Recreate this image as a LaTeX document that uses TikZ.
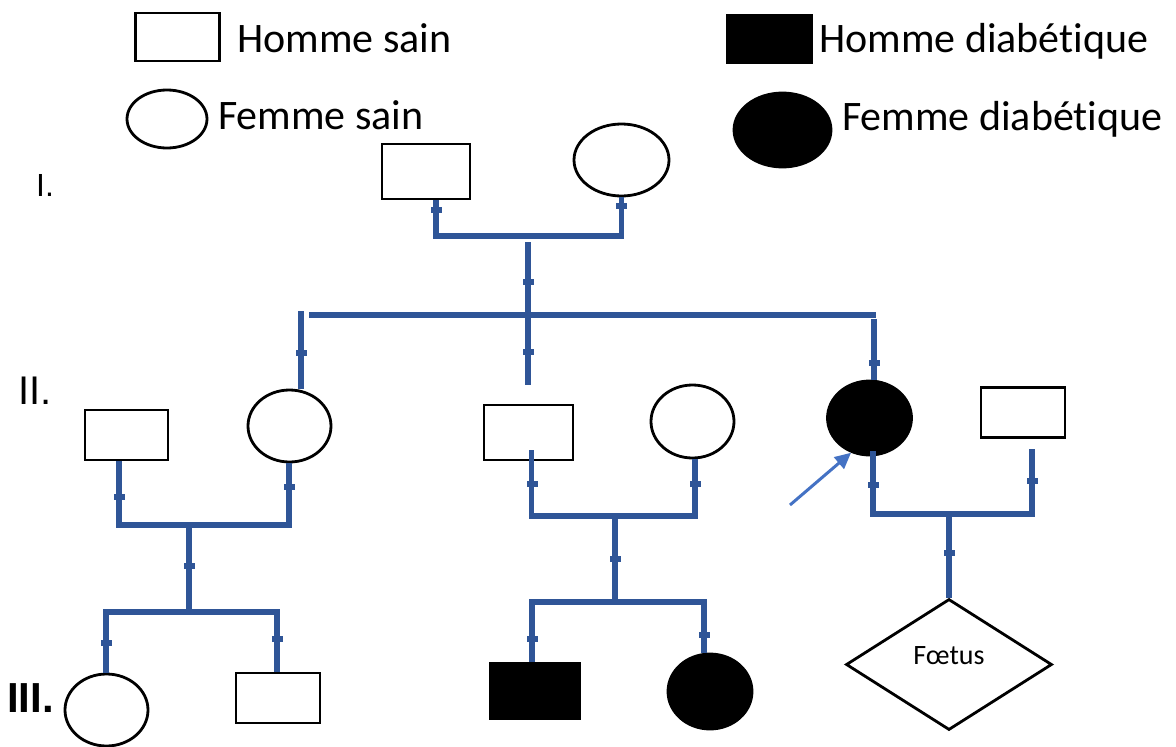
\documentclass[tikz,border=0pt]{standalone}
\usepackage{fontspec}
\setmainfont{Carlito}[Ligatures=NoCommon]
\newfontfamily\arialf{Liberation Sans}
\usetikzlibrary{shapes.geometric,arrows.meta}
\definecolor{connc}{RGB}{47,85,151}
\definecolor{arrc}{RGB}{68,114,196}
\newcommand\tk[2]{\fill[connc] (#1-5.5,#2-3) rectangle (#1+5.5,#2+3);}
\begin{document}
\begin{tikzpicture}[x=1pt,y=-1pt,
  sz/.style 2 args={minimum width=#1pt,minimum height=#2pt},
  sq/.style={rectangle,draw=black,line width=2.8pt,fill=white,inner sep=0pt},
  el/.style={ellipse,draw=black,line width=2.8pt,fill=white,inner sep=0pt},
  aff/.style={fill=black},
  conn/.style={draw=connc,line width=5.2pt,line join=miter},
  leg/.style={font=\fontsize{42}{50}\selectfont,inner sep=0pt,anchor=base west},
  gen/.style={inner sep=0pt,anchor=base west}]
\useasboundingbox (0,0) rectangle (1176,747);

% Legend
\node[sq,sz={84}{48}] (Lsq) at (177.5,37) {};
\node[el,sz={80}{58}] (Lel) at (167,119) {};
\node[sq,aff,sz={85}{48}] (Lbsq) at (769.5,39) {};
\node[el,aff,sz={97}{74}] (Lbel) at (782.5,130) {};
\node[leg] (t1) at (237,52) {Homme sain};
\node[leg] (t2) at (218,129) {Femme sain};
\node[leg] (t3) at (819,52) {Homme diabétique};
\node[leg] (t4) at (842,130) {Femme diabétique};

% Generation labels
\node[gen,font=\arialf\fontsize{32}{36}\selectfont] (g1) at (36,196) {I.};
\node[gen,font=\arialf\fontsize{40}{46}\selectfont] (g2) at (18,404) {II.};
\node[gen,font=\arialf\bfseries\fontsize{42}{48}\selectfont] (g3) at (7,712) {III.};

% Generation I
\node[sq,sz={88}{55}] (I1) at (426,171.5) {};
\node[el,sz={95}{72}] (I2) at (621.5,160) {};

% Generation II
\node[sq,sz={83}{50}] (II1) at (126.5,435) {};
\node[el,sz={83}{72}] (II2) at (289.5,426) {};
\node[sq,sz={89}{55}] (II3) at (528.5,432.5) {};
\node[el,sz={83}{73}] (II4) at (692.5,421.5) {};
\node[el,aff,sz={84}{74}] (II5) at (869.5,418) {};
\node[sq,sz={84}{50}] (II6) at (1023,412.5) {};

% Generation III
\node[el,sz={83}{72}] (III1) at (106.5,710) {};
\node[sq,sz={84}{50}] (III2) at (278,698) {};
\node[sq,aff,sz={90}{56}] (III3) at (535,691) {};
\node[el,aff,sz={84}{75}] (III4) at (710,691.5) {};
\node[diamond,draw=black,line width=2.8pt,fill=white,inner sep=0pt,sz={206}{131},
      font=\fontsize{28}{32}\selectfont,text height=0pt,text depth=0pt] (F) at (949,664.5) {Fœtus};

% Connectors: generation I couple
\coordinate (m1) at (528,236);
\draw[conn] ([xshift=10pt]I1.south) |- (m1) -| (I2.south);
\tk{436}{210}\tk{621}{206}
\coordinate (c1) at (528,242);
\coordinate (c1b) at (528,385);
\draw[conn] (c1) -- (c1b);
\tk{528}{282}\tk{528}{352}
\coordinate (sL) at (309,315);
\coordinate (sR) at (876,315);
\draw[conn] (sL) -- (sR);
\coordinate (dL) at (301,311);
\draw[conn] (dL) -- (II2.north -| dL);
\tk{301}{353}
\coordinate (dR) at (874,319);
\draw[conn] (dR) -- (II5.north -| dR);
\tk{874}{363}

% Left couple
\coordinate (m2) at (189,525);
\draw[conn] ([xshift=-7.5pt]II1.south) |- (m2) -| ([xshift=-0.5pt]II2.south);
\tk{119}{497}\tk{289}{487}
\coordinate (s2) at (189,612);
\draw[conn] (m2) -- (s2);
\tk{189}{566}
\draw[conn] ([xshift=-0.5pt]III1.north) |- (s2) -| ([xshift=-1pt]III2.north);
\tk{106}{643}\tk{277}{639}

% Middle couple
\coordinate (m3) at (615,516);
\draw[conn] ([xshift=3pt,yshift=11pt]II3.south) |- (m3) -| ([xshift=2.5pt]II4.south);
\tk{532}{484}\tk{695}{484}
\coordinate (s3) at (615,602);
\draw[conn] (m3) -- (s3);
\tk{615}{559}
\draw[conn] ([xshift=-3pt]III3.north) |- (s3) -| ([xshift=-6pt]III4.north);
\tk{532}{639}\tk{704}{635}

% Right couple
\coordinate (m4) at (949,514);
\draw[conn] ([xshift=3.5pt,yshift=5pt]II5.south) |- (m4) -| ([xshift=9pt,yshift=-10pt]II6.south);
\tk{873}{485}\tk{1032}{481}
\draw[conn] (m4) -- (F.north);
\tk{949}{553}

% Proband arrow
\coordinate (ar) at (790,505);
\draw[arrc,line width=3pt,-{Triangle[length=16pt,width=15pt]}] (ar) -- (II5.-118);
\end{tikzpicture}
\end{document}
